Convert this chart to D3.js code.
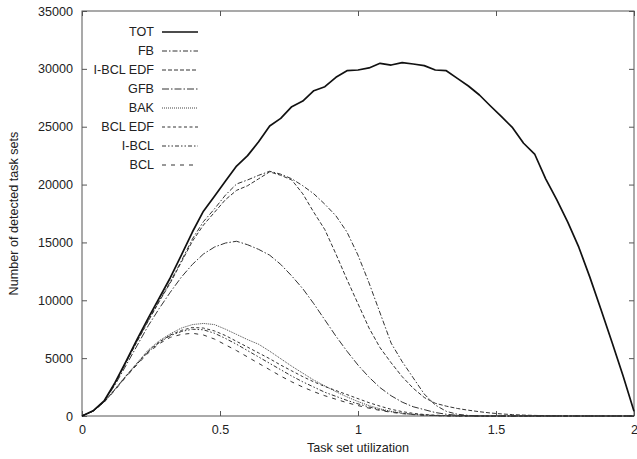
<!DOCTYPE html>
<html>
<head>
<meta charset="utf-8">
<script src="https://cdn.jsdelivr.net/npm/d3@7"></script>
<style>
  html, body { margin: 0; padding: 0; background: #fff; }
  svg { display: block; font-family: "Liberation Sans", Arial, Helvetica, sans-serif; }
  .axis text { font-size: 12.6px; fill: #222; }
  .axis line { stroke: #555; }
</style>
</head>
<body>
<div id="chart"></div>
<script>
// task set utilization (x) samples
const utilization = [
  0, 0.04, 0.08, 0.12, 0.16, 0.2, 0.24, 0.28, 0.32, 0.36,
  0.4, 0.44, 0.48, 0.52, 0.56, 0.6, 0.64, 0.68, 0.72, 0.76,
  0.8, 0.84, 0.88, 0.92, 0.96, 1, 1.04, 1.08, 1.12, 1.16,
  1.2, 1.24, 1.28, 1.32, 1.36, 1.4, 1.44, 1.48, 1.52, 1.56,
  1.6, 1.64, 1.68, 1.72, 1.76, 1.8, 1.84, 1.88, 1.92, 1.96, 2
];

const totValues = [
  0, 450, 1300, 2900, 4750, 6650, 8450, 10200, 11950, 13900,
  15900, 17700, 19000, 20300, 21600, 22500, 23700, 25060, 25720, 26730,
  27220, 28110, 28460, 29270, 29840, 29900, 30080, 30480, 30330, 30540,
  30420, 30280, 29900, 29840, 29180, 28520, 27740, 26790, 25870, 24920,
  23570, 22640, 20500, 18700, 16760, 14590, 12000, 9230, 6390, 3500, 400
];

const fbValues = [
  0, 440, 1280, 2850, 4650, 6500, 8250, 9950, 11600, 13400,
  15300, 16800, 17900, 19100, 20050, 20400, 20800, 21150, 20900, 20500,
  19900, 19200, 18300, 17300, 15900, 13900, 11500, 8900, 6300, 4700,
  3300, 1900, 950, 400, 150, 50, 10, 0, 0, 0,
  0, 0, 0, 0, 0, 0, 0, 0, 0, 0, 0
];

const ibclEdfValues = [
  0, 440, 1280, 2850, 4650, 6450, 8200, 9900, 11500, 13300,
  15100, 16500, 17600, 18700, 19500, 19900, 20500, 21100, 20800, 20400,
  19200, 17600, 16100, 14000, 11800, 9700, 7600, 5900, 4600, 3400,
  2400, 1600, 1100, 850, 650, 500, 370, 260, 180, 120,
  80, 50, 30, 15, 5, 0, 0, 0, 0, 0, 0
];

const gfbValues = [
  0, 430, 1250, 2700, 4400, 6100, 7800, 9300, 10700, 12000,
  13100, 14000, 14600, 14950, 15100, 14800, 14400, 13900, 13100, 12100,
  11000, 9700, 8300, 6900, 5600, 4400, 3350, 2450, 1750, 1200,
  800, 550, 300, 150, 60, 20, 0, 0, 0, 0,
  0, 0, 0, 0, 0, 0, 0, 0, 0, 0, 0
];

const bakValues = [
  0, 420, 1200, 2350, 3500, 4600, 5700, 6500, 7100, 7600,
  7900, 8000, 7900, 7500, 7050, 6600, 6200, 5600, 4950, 4300,
  3700, 3100, 2600, 2100, 1650, 1250, 900, 620, 400, 250,
  150, 80, 40, 20, 0, 0, 0, 0, 0, 0,
  0, 0, 0, 0, 0, 0, 0, 0, 0, 0, 0
];

const bclEdfValues = [
  0, 420, 1200, 2300, 3450, 4550, 5600, 6400, 7000, 7400,
  7650, 7600, 7350, 6950, 6450, 5950, 5450, 4950, 4400, 3900,
  3400, 2950, 2550, 2200, 1850, 1500, 1150, 850, 580, 380,
  230, 130, 70, 30, 10, 0, 0, 0, 0, 0,
  0, 0, 0, 0, 0, 0, 0, 0, 0, 0, 0
];

const ibclValues = [
  0, 420, 1200, 2300, 3450, 4500, 5550, 6350, 6950, 7300,
  7500, 7450, 7150, 6700, 6200, 5650, 5100, 4550, 4000, 3450,
  2950, 2500, 2050, 1700, 1350, 1050, 780, 550, 370, 230,
  140, 80, 40, 20, 0, 0, 0, 0, 0, 0,
  0, 0, 0, 0, 0, 0, 0, 0, 0, 0, 0
];

const bclValues = [
  0, 410, 1180, 2250, 3400, 4450, 5450, 6250, 6800, 7050,
  7150, 7000, 6650, 6150, 5650, 5100, 4550, 4000, 3450, 2950,
  2500, 2100, 1750, 1450, 1150, 900, 680, 480, 320, 200,
  120, 70, 30, 10, 0, 0, 0, 0, 0, 0,
  0, 0, 0, 0, 0, 0, 0, 0, 0, 0, 0
];

const seriesNames = ['TOT', 'FB', 'I-BCL EDF', 'GFB', 'BAK', 'BCL EDF', 'I-BCL', 'BCL'];
const xTicks = [0, 0.5, 1, 1.5, 2];
const yTicks = [0, 5000, 10000, 15000, 20000, 25000, 30000, 35000];

document.addEventListener('DOMContentLoaded', function () {
  const width = 637;
  const height = 459;
  const margin = { top: 11, right: 3, bottom: 43, left: 82 };

  const series = [
    { name: seriesNames[0], values: totValues, dash: null, width: 1.7, color: '#111' },
    { name: seriesNames[1], values: fbValues, dash: '5,2,1.5,2', width: 1, color: '#333' },
    { name: seriesNames[2], values: ibclEdfValues, dash: '4,2', width: 1, color: '#333' },
    { name: seriesNames[3], values: gfbValues, dash: '7,2,1.5,2', width: 1, color: '#333' },
    { name: seriesNames[4], values: bakValues, dash: '1,1', width: 1, color: '#444' },
    { name: seriesNames[5], values: bclEdfValues, dash: '3,2.5', width: 1, color: '#333' },
    { name: seriesNames[6], values: ibclValues, dash: '4,2,1.5,2,1.5,2', width: 1, color: '#333' },
    { name: seriesNames[7], values: bclValues, dash: '4,5', width: 1, color: '#333' },
  ];

  const svg = d3.select('#chart').append('svg').attr('width', width).attr('height', height);

  const x = d3.scaleLinear().domain([0, 2]).range([margin.left, width - margin.right]);
  const y = d3.scaleLinear().domain([0, 35000]).range([height - margin.bottom, margin.top]);

  // axes with inward ticks (mirrored on top/right)
  svg.append('g')
    .attr('class', 'axis')
    .attr('transform', `translate(0,${height - margin.bottom})`)
    .call(d3.axisBottom(x).tickValues(xTicks).tickFormat(d3.format('')).tickSize(-5).tickPadding(9))
    .call((g) => g.select('.domain').remove());

  svg.append('g')
    .attr('class', 'axis')
    .attr('transform', `translate(${margin.left},0)`)
    .call(d3.axisLeft(y).tickValues(yTicks).tickFormat(d3.format('d')).tickSize(-5).tickPadding(9))
    .call((g) => g.select('.domain').remove());

  svg.append('g')
    .attr('class', 'axis')
    .attr('transform', `translate(0,${margin.top})`)
    .call(d3.axisTop(x).tickValues(xTicks).tickFormat('').tickSize(-5))
    .call((g) => g.select('.domain').remove());

  svg.append('g')
    .attr('class', 'axis')
    .attr('transform', `translate(${width - margin.right},0)`)
    .call(d3.axisRight(y).tickValues(yTicks).tickFormat('').tickSize(-5))
    .call((g) => g.select('.domain').remove());

  svg.append('rect')
    .attr('x', margin.left)
    .attr('y', margin.top)
    .attr('width', width - margin.left - margin.right)
    .attr('height', height - margin.top - margin.bottom)
    .attr('fill', 'none')
    .attr('stroke', '#555')
    .attr('stroke-width', 1);

  const line = d3.line()
    .x((d, i) => x(utilization[i]))
    .y((d) => y(d));

  // draw lower curves first so TOT sits on top
  series.slice().reverse().forEach((s) => {
    svg.append('path')
      .datum(s.values)
      .attr('d', line)
      .attr('fill', 'none')
      .attr('stroke', s.color)
      .attr('stroke-width', s.width)
      .attr('stroke-dasharray', s.dash)
      .attr('stroke-linejoin', 'round');
  });

  // legend
  const legend = svg.append('g');
  series.forEach((s, i) => {
    const ly = 32 + i * 19;
    legend.append('text')
      .attr('x', 154)
      .attr('y', ly)
      .attr('dy', '0.35em')
      .attr('text-anchor', 'end')
      .attr('font-size', '12.6px')
      .attr('fill', '#222')
      .text(s.name);
    legend.append('line')
      .attr('x1', 162)
      .attr('x2', 198)
      .attr('y1', ly)
      .attr('y2', ly)
      .attr('stroke', s.color)
      .attr('stroke-width', s.width)
      .attr('stroke-dasharray', s.dash);
  });

  svg.append('text')
    .attr('x', (margin.left + width - margin.right) / 2)
    .attr('y', 452)
    .attr('text-anchor', 'middle')
    .attr('font-size', '12.6px')
    .attr('fill', '#222')
    .text('Task set utilization');

  svg.append('text')
    .attr('transform', `translate(18,${(margin.top + height - margin.bottom) / 2}) rotate(-90)`)
    .attr('text-anchor', 'middle')
    .attr('font-size', '12.6px')
    .attr('fill', '#222')
    .text('Number of detected task sets');
});
</script>
</body>
</html>
